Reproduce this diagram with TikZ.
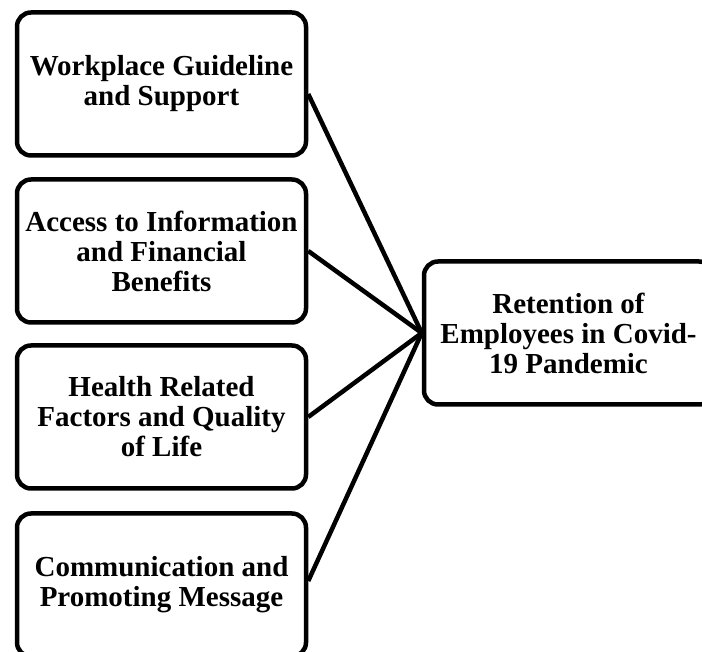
\documentclass[tikz,border=0pt]{standalone}
\usepackage{fontspec}
\setmainfont{Liberation Serif}
\usetikzlibrary{positioning}

\tikzset{
    factor/.style={draw, line width=4.5pt, rounded corners=14pt,
        minimum width=289pt, minimum height=143pt, align=center,
        font=\fontsize{29}{30}\selectfont\bfseries},
    link/.style={-, line width=4.5pt}
}

\begin{document}
\begin{tikzpicture}[x=1pt, y=1pt]
    \useasboundingbox (0,0) rectangle (702,652);
    % factors on the left
    \node[factor] (guide) at (161.5,568) {Workplace Guideline\\and Support};
    \node[factor] (access) at (161.5,401) {Access to Information\\and Financial\\Benefits};
    \node[factor] (health) at (161.5,235) {Health Related\\Factors and Quality\\of Life};
    \node[factor] (comm) at (161.5,67) {Communication and\\Promoting Message};
    % outcome
    \node[factor] (retain) at (568.5,319) {Retention of\\Employees in Covid-\\19 Pandemic};

    \draw[link] ([yshift=-10pt]guide.east) -- (retain.west);
    \draw[link] (access.east) -- (retain.west);
    \draw[link] (health.east) -- (retain.west);
    \draw[link] ([yshift=4pt]comm.east) -- (retain.west);
\end{tikzpicture}
\end{document}
